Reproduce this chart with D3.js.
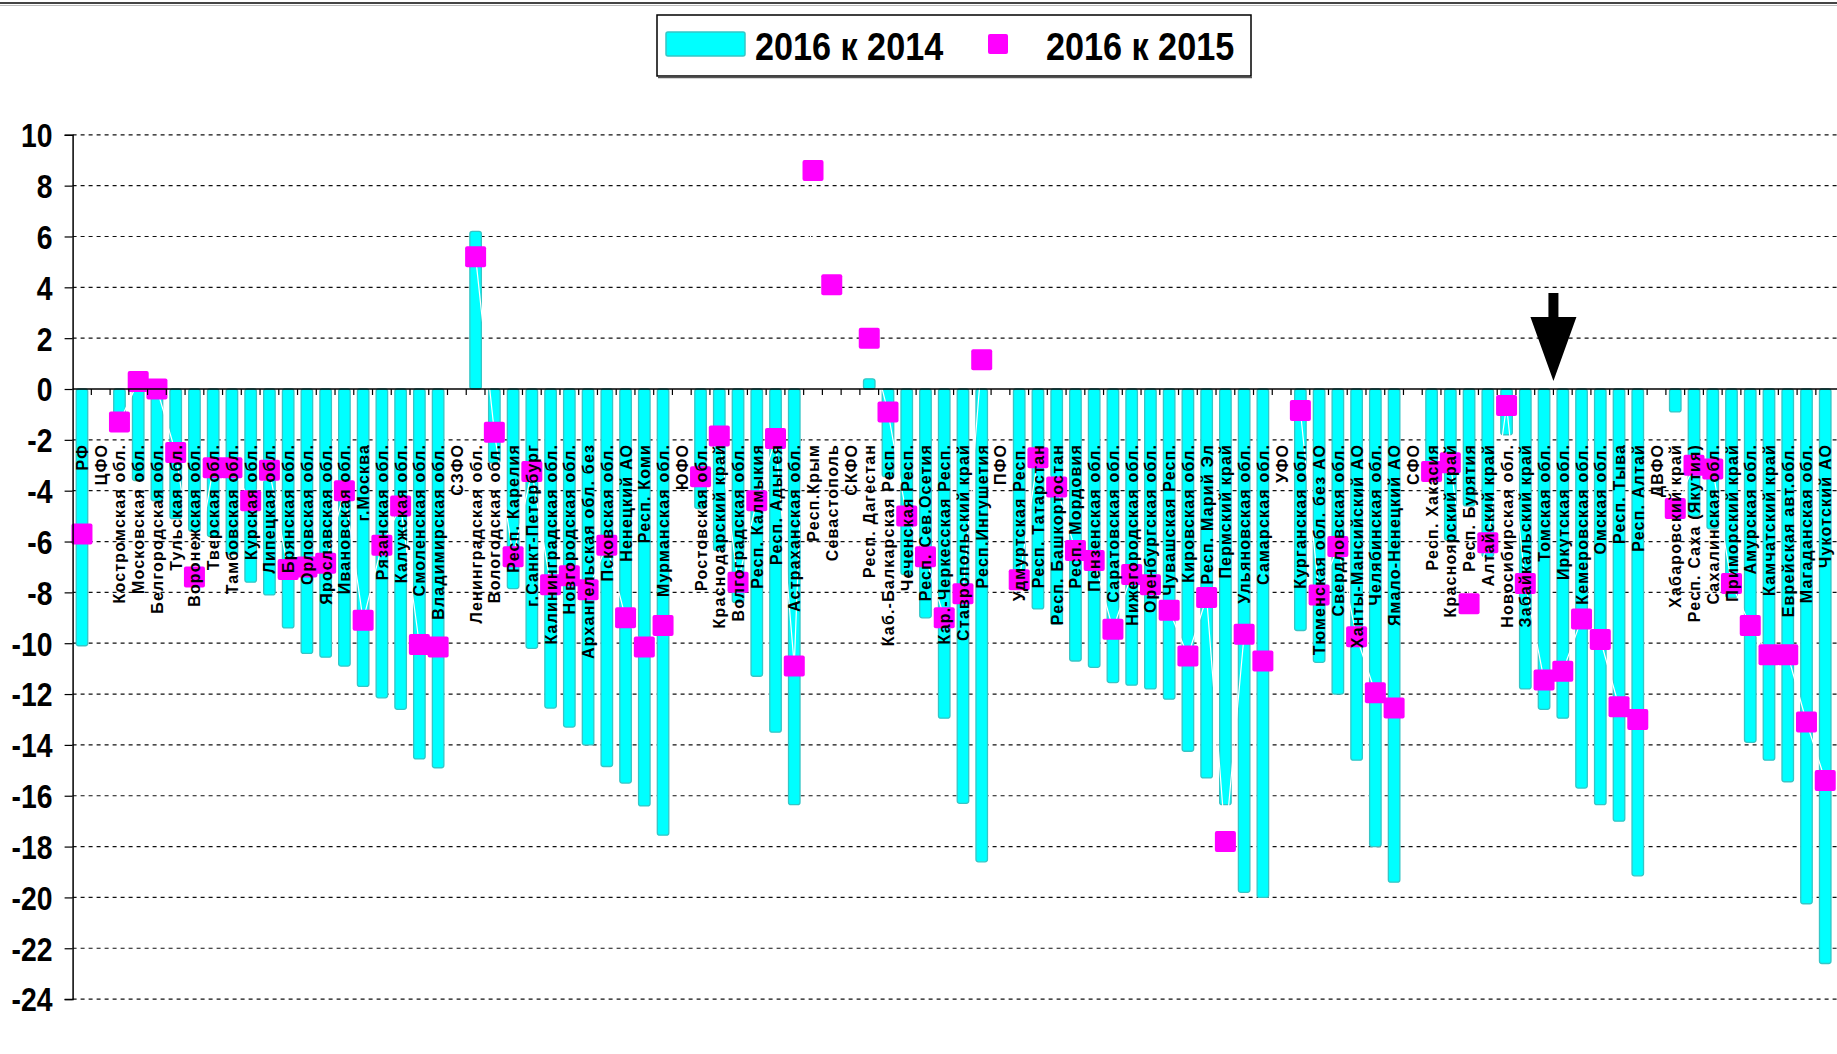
<!DOCTYPE html>
<html>
<head>
<meta charset="utf-8">
<script src="https://cdn.jsdelivr.net/npm/d3@7"></script>
<style>
  body { margin: 0; background: #fff; }
  svg { display: block; }
</style>
</head>
<body>
<div id="chart"></div>
<script>
const width = 1837;
const height = 1054;

// regions, in the order of the chart
const categories = [
  "РФ", "ЦФО", "Костромская обл.", "Московская обл.", "Белгородская обл.", "Тульская обл.",
  "Воронежская обл.", "Тверская обл.", "Тамбовская обл.", "Курская обл.", "Липецкая обл.",
  "Брянская обл.", "Орловская обл.", "Ярославская обл.", "Ивановская обл.", "г.Москва",
  "Рязанская обл.", "Калужская обл.", "Смоленская обл.", "Владимирская обл.", "СЗФО",
  "Ленинградская обл.", "Вологодская обл.", "Респ. Карелия", "г.Санкт-Петербург",
  "Калининградская обл.", "Новгородская обл.", "Архангельская обл. без", "Псковская обл.",
  "Ненецкий АО", "Респ. Коми", "Мурманская обл.", "ЮФО", "Ростовская обл.", "Краснодарский край",
  "Волгоградская обл.", "Респ. Калмыкия", "Респ. Адыгея", "Астраханская обл.", "Респ.Крым",
  "Севастополь", "СКФО", "Респ. Дагестан", "Каб.-Балкарская Респ.", "Чеченская Респ.",
  "Респ. Сев.Осетия", "Кар.-Черкесская Респ.", "Ставропольский край", "Респ.Ингушетия", "ПФО",
  "Удмуртская Респ.", "Респ. Татарстан", "Респ. Башкортостан", "Респ. Мордовия", "Пензенская обл.",
  "Саратовская обл.", "Нижегородская обл.", "Оренбургская обл.", "Чувашская Респ.", "Кировская обл.",
  "Респ. Марий Эл", "Пермский край", "Ульяновская обл.", "Самарская обл.", "УФО",
  "Курганская обл.", "Тюменская обл. без АО", "Свердловская обл.", "Ханты-Мансийский АО",
  "Челябинская обл.", "Ямало-Ненецкий АО", "СФО", "Респ. Хакасия", "Красноярский край",
  "Респ. Бурятия", "Алтайский край", "Новосибирская обл.", "Забайкальский край", "Томская обл.",
  "Иркутская обл.", "Кемеровская обл.", "Омская обл.", "Респ. Тыва", "Респ. Алтай", "ДВФО",
  "Хабаровский край", "Респ. Саха (Якутия)", "Сахалинская обл.", "Приморский край", "Амурская обл.",
  "Камчатский край", "Еврейская авт.обл.", "Магаданская обл.", "Чукотский АО"
];

// 2016 к 2014 (bars), %
const change2014 = [
  -10.1, null, -1.1, -3.6, -4.4, -5.1,
  -5.6, -5.8, -6.5, -7.6, -8.1,
  -9.4, -10.4, -10.55, -10.9, -11.7,
  -12.15, -12.6, -14.55, -14.9, null,
  6.2, -2.9, -7.85, -10.2,
  -12.55, -13.3, -14.0, -14.85,
  -15.5, -16.4, -17.55, null, -4.7, -6.35,
  -8.4, -11.3, -13.5, -16.35, null,
  null, null, 0.4, -3.45, -7.3,
  -9.0, -12.95, -16.3, -18.6, null,
  -7.8, -8.65, -9.25, -10.7, -10.95,
  -11.55, -11.65, -11.8, -12.2, -14.25,
  -15.3, -16.35, -19.8, -20.0, null,
  -9.5, -10.75, -12.0, -14.6,
  -18.0, -19.4, null, -3.1, -5.95,
  -4.6, -6.6, -1.8, -11.8, -12.6,
  -12.95, -15.7, -16.35, -17.0, -19.15, null,
  -0.9, -5.0, -5.5, -8.2, -13.9,
  -14.6, -15.45, -20.25, -22.6
];

// 2016 к 2015 (markers), %
const change2015 = [
  -5.7, null, -1.3, 0.3, 0.0, -2.5,
  -7.4, -3.1, -3.1, -4.4, -3.2,
  -7.1, -7.0, -6.85, -4.0, -9.1,
  -6.15, -4.6, -10.05, -10.15, null,
  5.2, -1.7, -6.6, -3.25,
  -7.7, -7.35, -7.9, -6.15,
  -9.0, -10.15, -9.3, null, -3.45, -1.85,
  -7.6, -4.4, -1.95, -10.9, 8.6,
  4.1, null, 2.0, -0.9, -5.0,
  -6.6, -9.0, -8.05, 1.15, null,
  -7.5, -2.7, -3.85, -6.35, -6.75,
  -9.45, -7.3, -7.7, -8.7, -10.5,
  -8.2, -17.8, -9.65, -10.7, null,
  -0.85, -8.1, -6.2, -9.75,
  -11.95, -12.55, null, -3.25, -2.9,
  -8.45, -6.05, -0.65, -7.65, -11.45,
  -11.1, -9.05, -9.85, -12.5, -13.0, null,
  -4.7, -3.0, -3.15, -7.65, -9.3,
  -10.45, -10.45, -13.1, -15.4
];

const yTicks = [10, 8, 6, 4, 2, 0, -2, -4, -6, -8, -10, -12, -14, -16, -18, -20, -22, -24];
const seriesNames = ["2016 к 2014", "2016 к 2015"];
const arrowBefore = "Иркутская обл.";

const rows = categories.map((name, i) => ({ name, bar: change2014[i], mark: change2015[i] }));

const svg = d3.select("#chart").append("svg")
  .attr("width", width)
  .attr("height", height)
  .style("font-family", "'Liberation Sans', Arial, sans-serif");

const x = d3.scaleBand()
  .domain(categories)
  .range([72.6, 1834.6])
  .padding(0);

const y = d3.scaleLinear()
  .domain([-24, 10])
  .range([999.1, 134.8]);

const barW = 11.5;
const cx = d => x(d) + x.bandwidth() / 2;

// top frame line
svg.append("line").attr("x1", 0).attr("x2", width).attr("y1", 3).attr("y2", 3)
  .attr("stroke", "#444").attr("stroke-width", 2);
svg.append("line").attr("x1", 0).attr("x2", width).attr("y1", 5.5).attr("y2", 5.5)
  .attr("stroke", "#bbb").attr("stroke-width", 1);

// dashed gridlines
svg.append("g")
  .selectAll("line")
  .data(yTicks.filter(d => d !== 0))
  .join("line")
  .attr("x1", x.range()[0])
  .attr("x2", width)
  .attr("y1", d => y(d))
  .attr("y2", d => y(d))
  .attr("stroke", "#111")
  .attr("stroke-width", 1.2)
  .attr("stroke-dasharray", "4,4");

// bars
svg.append("g")
  .selectAll("rect")
  .data(rows.filter(d => d.bar != null))
  .join("rect")
  .attr("x", d => cx(d.name) - barW / 2)
  .attr("y", d => y(Math.max(0, d.bar)))
  .attr("width", barW)
  .attr("height", d => Math.abs(y(d.bar) - y(0)))
  .attr("rx", 2.5)
  .attr("fill", "#00ffff")
  .attr("stroke", "#35c6c6")
  .attr("stroke-width", 1.3);

// thin white line joining the markers
const line = d3.line()
  .defined(d => d.mark != null)
  .x(d => cx(d.name))
  .y(d => y(d.mark));

svg.append("path")
  .datum(rows)
  .attr("d", line)
  .attr("fill", "none")
  .attr("stroke", "#fff")
  .attr("stroke-width", 1.2);

// markers
const ms = 21;
svg.append("g")
  .selectAll("rect")
  .data(rows.filter(d => d.mark != null))
  .join("rect")
  .attr("x", d => cx(d.name) - ms / 2)
  .attr("y", d => y(d.mark) - ms / 2)
  .attr("width", ms)
  .attr("height", ms)
  .attr("rx", 2)
  .attr("fill", "#ff00ff");

// zero axis with ticks between categories
const zeroAxis = svg.append("g");
zeroAxis.append("line")
  .attr("x1", x.range()[0]).attr("x2", width)
  .attr("y1", y(0)).attr("y2", y(0))
  .attr("stroke", "#000").attr("stroke-width", 1.5);
zeroAxis.selectAll("line.tick")
  .data(categories.slice(1))
  .join("line")
  .attr("class", "tick")
  .attr("x1", d => x(d)).attr("x2", d => x(d))
  .attr("y1", y(0)).attr("y2", y(0) + 6)
  .attr("stroke", "#000").attr("stroke-width", 1.2);

// y axis
const yAxis = svg.append("g")
  .attr("transform", `translate(${x.range()[0]},0)`)
  .call(d3.axisLeft(y).tickValues(yTicks).tickSize(8).tickFormat(d3.format("d")));
yAxis.select(".domain").attr("stroke", "#000").attr("stroke-width", 1.5);
yAxis.selectAll(".tick line").attr("stroke", "#000").attr("stroke-width", 1.2);
yAxis.selectAll(".tick text")
  .attr("x", -20 / 0.86)
  .attr("dy", "0.36em")
  .attr("transform", "scale(0.86,1)")
  .attr("fill", "#000")
  .style("font-family", "'Liberation Sans', Arial, sans-serif")
  .style("font-size", "33px")
  .style("font-weight", "bold")
  .text(d => String(d).replace("−", "-"));

// category labels, rotated, hanging below the -2 line
svg.append("g")
  .selectAll("text")
  .data(categories)
  .join("text")
  .attr("transform", d => `translate(${cx(d) + 6},${y(-2) + 4}) rotate(-90)`)
  .attr("text-anchor", "end")
  .style("font-size", "16px")
  .style("font-weight", "bold")
  .style("letter-spacing", "1.2px")
  .attr("fill", "#000")
  .text(d => d);

// arrow pointing at the boundary before Иркутская обл.
const ax = x(arrowBefore);
const tipY = y(0) - 8;
const headH = 64, headW = 46, shaftW = 10, shaftH = 24;
svg.append("path")
  .attr("d", `M${ax - shaftW / 2},${tipY - headH - shaftH}
    L${ax + shaftW / 2},${tipY - headH - shaftH}
    L${ax + shaftW / 2},${tipY - headH}
    L${ax + headW / 2},${tipY - headH}
    L${ax},${tipY}
    L${ax - headW / 2},${tipY - headH}
    L${ax - shaftW / 2},${tipY - headH}Z`)
  .attr("fill", "#000");

// legend
const legend = svg.append("g");
legend.append("rect")
  .attr("x", 657).attr("y", 15).attr("width", 594).attr("height", 61)
  .attr("fill", "#fff").attr("stroke", "#000").attr("stroke-width", 1.5);
legend.append("line")
  .attr("x1", 658).attr("x2", 1252).attr("y1", 77.5).attr("y2", 77.5)
  .attr("stroke", "#555").attr("stroke-width", 1.5);
legend.append("rect")
  .attr("x", 666).attr("y", 32).attr("width", 79).attr("height", 24)
  .attr("rx", 2)
  .attr("fill", "#00ffff").attr("stroke", "#35c6c6").attr("stroke-width", 1.5);
legend.append("rect")
  .attr("x", 988).attr("y", 34).attr("width", 20).attr("height", 20)
  .attr("rx", 2)
  .attr("fill", "#ff00ff");
legend.selectAll("text")
  .data(seriesNames)
  .join("text")
  .attr("transform", (d, i) => `translate(${i === 0 ? 755 : 1046},60) scale(0.9,1)`)
  .style("font-size", "38px")
  .style("font-weight", "bold")
  .attr("fill", "#000")
  .text(d => d);
</script>
</body>
</html>
